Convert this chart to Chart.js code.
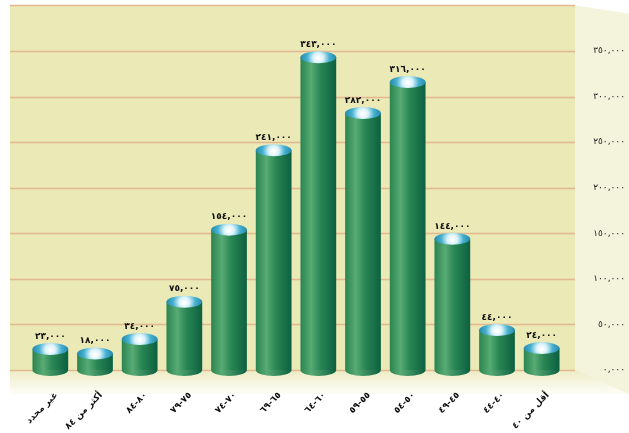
<!DOCTYPE html>
<html>
<head>
<meta charset="utf-8">
<script src="https://cdn.jsdelivr.net/npm/chart.js@4"></script>
<style>
  html, body { margin: 0; padding: 0; background: #fff; }
  #wrap { width: 629px; height: 433px; }
</style>
</head>
<body>
<div id="wrap"><canvas id="ageChart"></canvas></div>
<script>
// age groups, left to right as printed
const categories = ['غير محدد', 'أكثر من ٨٤', '٨٤-٨٠', '٧٩-٧٥', '٧٤-٧٠', '٦٩-٦٥', '٦٤-٦٠', '٥٩-٥٥', '٥٤-٥٠', '٤٩-٤٥', '٤٤-٤٠', 'أقل من ٤٠'];
const counts = [23000, 18000, 34000, 75000, 154000, 241000, 343000, 282000, 316000, 144000, 44000, 24000];
const tickValues = [0, 50000, 100000, 150000, 200000, 250000, 300000, 350000];

const arDigits = '٠١٢٣٤٥٦٧٨٩';
function toArabic(n) {
    // the printed chart writes zero as 0,000 too
    const s = n === 0 ? '0,000' : n.toLocaleString('en-US');
    return s.replace(/[0-9]/g, d => arDigits[d]);
}

// background: yellow wall, floor band, pale side panel and grid lines
const backdrop = {
    id: 'backdrop',
    beforeDraw(chart) {
        const { ctx, chartArea: a, width, scales } = chart;
        const wl = a.left - 18, wr = a.right + 11;
        ctx.save();
        // side panel on the right
        ctx.fillStyle = '#f4f3dc';
        ctx.beginPath();
        ctx.moveTo(wr, a.top);
        ctx.lineTo(width, a.top + 8);
        ctx.lineTo(width, a.bottom + 24);
        ctx.lineTo(wr, a.bottom + 14);
        ctx.closePath();
        ctx.fill();
        // main wall
        ctx.fillStyle = '#ebe9b6';
        ctx.fillRect(wl, a.top, wr - wl, a.bottom - a.top);
        // floor
        const g = ctx.createLinearGradient(0, a.bottom, 0, a.bottom + 22);
        g.addColorStop(0, '#eeecc4');
        g.addColorStop(1, '#fcfcf4');
        ctx.fillStyle = g;
        ctx.beginPath();
        ctx.moveTo(wl, a.bottom);
        ctx.lineTo(wr, a.bottom);
        ctx.lineTo(width, a.bottom + 24);
        ctx.lineTo(wl, a.bottom + 24);
        ctx.closePath();
        ctx.fill();
        // grid lines
        ctx.strokeStyle = '#e2b98e';
        ctx.lineWidth = 1.5;
        scales.y.ticks.forEach(t => {
            const y = Math.round(scales.y.getPixelForValue(t.value)) + 0.5;
            ctx.beginPath();
            ctx.moveTo(wl, y);
            ctx.lineTo(wr, y);
            ctx.stroke();
        });
        ctx.restore();
    }
};

// cylinder shading on each bar
const cylinder = {
    id: 'cylinder',
    beforeDatasetsDraw(chart) {
        const { ctx } = chart;
        chart.getDatasetMeta(0).data.forEach(el => {
            const x0 = el.x - el.width / 2;
            const g = ctx.createLinearGradient(x0, 0, x0 + el.width, 0);
            g.addColorStop(0, '#2a8450');
            g.addColorStop(0.3, '#58ab74');
            g.addColorStop(0.55, '#2a8754');
            g.addColorStop(1, '#0c6040');
            el.options.backgroundColor = g;
        });
    },
    afterDatasetsDraw(chart) {
        const { ctx } = chart;
        const base = chart.scales.y.getPixelForValue(0);
        ctx.save();
        chart.getDatasetMeta(0).data.forEach((el, i) => {
            const rx = el.width / 2, ry = 6;
            // rounded base
            const gb = ctx.createLinearGradient(el.x - rx, 0, el.x + rx, 0);
            gb.addColorStop(0, '#2a8450');
            gb.addColorStop(0.3, '#58ab74');
            gb.addColorStop(1, '#0c6040');
            ctx.fillStyle = gb;
            ctx.beginPath();
            ctx.ellipse(el.x, base, rx, ry, 0, 0, Math.PI);
            ctx.fill();
            // top cap
            const gc = ctx.createRadialGradient(el.x, el.y + 1, 1, el.x, el.y, rx);
            gc.addColorStop(0, '#ffffff');
            gc.addColorStop(0.25, '#d8f2fa');
            gc.addColorStop(0.6, '#45b0d0');
            gc.addColorStop(1, '#2689aa');
            ctx.fillStyle = gc;
            ctx.beginPath();
            ctx.ellipse(el.x, el.y, rx, ry, 0, 0, Math.PI * 2);
            ctx.fill();
            // value label
            ctx.fillStyle = '#111';
            ctx.font = 'bold 9px "DejaVu Sans"';
            ctx.textAlign = 'center';
            ctx.textBaseline = 'bottom';
            ctx.fillText(toArabic(counts[i]), el.x, el.y - ry - 2);
        });
        ctx.restore();
    }
};

new Chart(document.getElementById('ageChart').getContext('2d'), {
    type: 'bar',
    data: {
        labels: categories,
        datasets: [{
            data: counts,
            backgroundColor: () => '#2a8754',
            borderWidth: 0,
            barPercentage: 0.8,
            categoryPercentage: 1
        }]
    },
    options: {
        responsive: true,
        maintainAspectRatio: false,
        animation: false,
        layout: { padding: { left: 28, top: 0, right: 4, bottom: 0 } },
        plugins: {
            legend: { display: false },
            tooltip: { enabled: false }
        },
        scales: {
            x: {
                grid: { display: false },
                border: { display: false },
                afterFit: axis => { axis.height = 63; },
                ticks: {
                    color: '#111',
                    font: { family: 'DejaVu Sans', size: 9, weight: 'bold' },
                    minRotation: 45,
                    maxRotation: 45,
                    padding: 12,
                    labelOffset: 6,
                    // keep the numbers of each range in printed order
                    callback: (v, i) => categories[i].replace('-', '\u200E-\u200E')
                }
            },
            y: {
                position: 'right',
                min: 0,
                max: 400000,
                afterBuildTicks: axis => {
                    axis.ticks = tickValues.concat([400000]).map(v => ({ value: v }));
                },
                afterFit: axis => { axis.width = 61; },
                grid: { display: false },
                border: { display: false },
                ticks: {
                    color: '#222',
                    padding: 0,
                    crossAlign: 'far',
                    font: { family: 'DejaVu Sans', size: 9 },
                    callback: v => v === 400000 ? '' : toArabic(v)
                }
            }
        }
    },
    plugins: [backdrop, cylinder]
});
</script>
</body>
</html>
